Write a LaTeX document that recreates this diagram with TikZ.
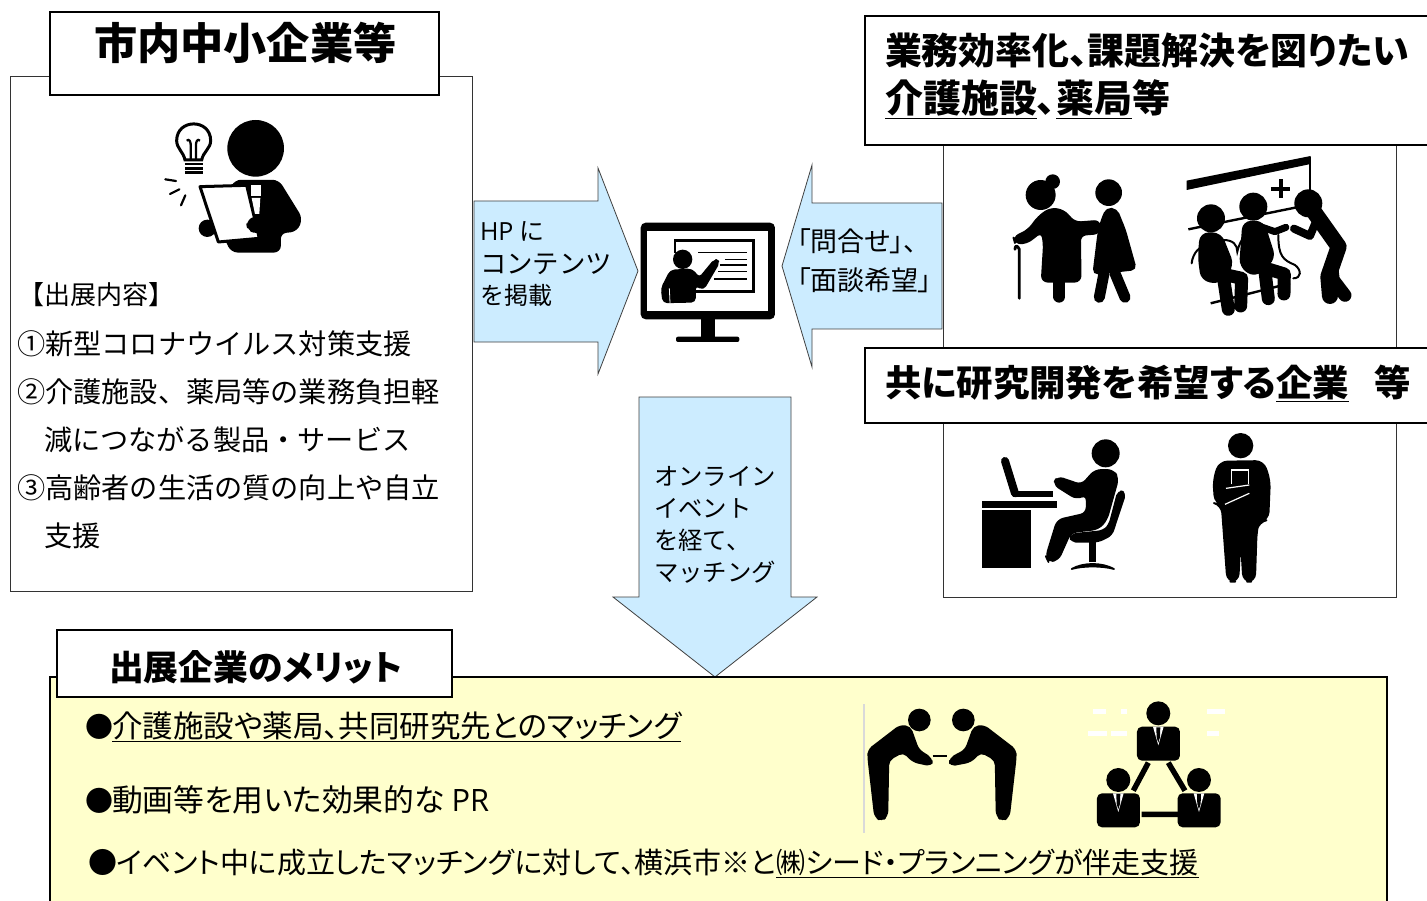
\documentclass[tikz,border=0pt]{standalone}
\usepackage{fontspec}
\setmainfont{Noto Sans CJK JP}
\newfontfamily\pf[RawFeature={+palt}]{Noto Sans CJK JP}
\newfontfamily\lt{Open Sans}
\tikzset{
  frame/.style={draw=black,line width=1.2pt,fill=white},
  thinframe/.style={draw=black!80,line width=0.9pt,fill=white},
  arr/.style={draw=black!75,line width=0.8pt,fill=arrowblue},
  txt/.style={anchor=base west,inner sep=0pt,outer sep=0pt},
  silh/.style={fill=black,draw=black,line width=1.8pt,line join=round},
  limb/.style={draw=black,line cap=round,line join=round,fill=none},
}
\definecolor{arrowblue}{HTML}{CCECFF}
\definecolor{paleyellow}{HTML}{FFFFCC}
\newcommand{\fs}[1]{\fontsize{#1pt}{#1pt}\selectfont}
\begin{document}
\begin{tikzpicture}[x=1pt,y=-1pt]
\useasboundingbox (0,0) rectangle (1427,901);
\fill[white] (0,0) rectangle (1427,901);
% left panel
\draw[thinframe] (10.5,76) rectangle (472,591);
\draw[frame] (50,12) rectangle (439,95);
\node[txt] (title) at (94,60) {\fs{43.2}\pf\bfseries 市内中小企業等};
\node[txt] (c0) at (18,305) {\fs{26}【出展内容】};
\node[txt] (c1) at (17,354) {\fs{28.2}①新型コロナウイルス対策支援};
\node[txt] (c2) at (17,402) {\fs{28.2}②介護施設、薬局等の業務負担軽};
\node[txt] (c2b) at (44,450) {\fs{28.2}減につながる製品・サービス};
\node[txt] (c3) at (17,498) {\fs{28.2}③高齢者の生活の質の向上や自立};
\node[txt] (c3b) at (44,546) {\fs{28.2}支援};
% figure 1
\begin{scope}[shift={(150,110)},x=0.3333pt,y=-0.3333pt]
\fill[black] (317,115) circle (85);
\draw[black,line width=3pt] (105,150) .. controls (100,125) and (80,115) .. (80,92) .. controls (80,25) and (182,25) .. (182,92) .. controls (182,115) and (160,125) .. (155,150) -- cycle;
\draw[black,line width=2.2pt] (122,150) -- (122,100) (138,150) -- (138,100) (110,92) .. controls (118,85) and (122,95) .. (122,105) (150,92) .. controls (142,85) and (138,95) .. (138,105);
\draw[black,line width=2.4pt] (105,162) -- (158,162) (105,175) -- (158,175) (105,188) -- (158,188);
\draw[limb,line width=2.2pt] (46,208) -- (78,213) (60,252) -- (88,238) (93,286) -- (106,256);
\path[silh,rounded corners=6pt] (255,212) -- (385,212) -- (455,325) -- (440,362) -- (390,368) -- (390,425) -- (245,425) -- (200,330) -- cycle;
\fill[black] (172,355) circle (26);
\path[fill=white,draw=black,line width=3pt,line join=round] (150,230) -- (290,226) -- (328,385) -- (205,396) -- cycle;
\fill[white] (303,225) rectangle (332,258);
\fill[white] (305,264) -- (331,264) -- (328,312) -- (315,312) -- cycle;
\path[silh,rounded corners=6pt] (290,335) -- (320,318) -- (380,330) -- (400,368) -- (320,368) -- (295,360) -- cycle;
\end{scope}
% arrow right
\draw[arr] (474,201) -- (598,201) -- (598,168) -- (638,271) -- (598,374) -- (598,342) -- (474,342) -- cycle;
\node[txt] (a1) at (480,241) {\fs{25}{\lt HP} に};
\node[txt] (a2) at (480,274) {\fs{26.4}コンテンツ};
\node[txt] (a3) at (480,305) {\fs{24}を掲載};
% arrow left
\draw[arr] (942,203) -- (812,203) -- (812,165) -- (782,266) -- (812,367) -- (812,329) -- (942,329) -- cycle;
\node[txt] (b1) at (797,252) {\fs{27}\pf 「問合せ」、};
\node[txt] (b2) at (797,291) {\fs{27}\pf 「面談希望」};
% monitor
\begin{scope}[shift={(630,210)},x=0.3333pt,y=-0.3333pt]
\fill[black,rounded corners=5pt] (32,38) rectangle (435,328);
\fill[white] (50,62) rectangle (415,302);
\fill[black] (212,325) rectangle (256,382);
\fill[black,rounded corners=2pt] (138,380) rectangle (328,396);
\draw[black,line width=2.4pt] (135,130) -- (135,92) -- (370,92) -- (370,245) -- (190,245);
\draw[black,line width=1.4pt] (205,127) -- (350,127) (285,148) -- (350,148) (270,165) -- (350,165) (265,185) -- (350,185) (252,207) -- (350,207);
\fill[black] (158,148) circle (29);
\path[silh,rounded corners=4pt] (122,182) -- (185,178) -- (208,205) -- (255,148) -- (268,156) -- (220,238) -- (195,225) -- (195,275) -- (100,277) -- (95,235) -- cycle;
\draw[white,line width=0.8pt] (118,235) -- (120,279);
\end{scope}
% right panel
\draw[thinframe] (943.5,120) rectangle (1396,597);
\draw[frame] (865,16) rectangle (1440,145);
\node[txt] (r1) at (885,65) {\fs{36.9}\pf\bfseries 業務効率化、課題解決を図りたい};
\node[txt] (r2) at (885,113) {\fs{38}\pf\bfseries \underline{介護施設}、\underline{薬局}等};
\draw[frame] (865,348) rectangle (1440,423);
\node[txt] (r3) at (885,396) {\fs{36.4}\pf\bfseries 共に研究開発を希望する\underline{企業}\hspace{0.7em}等};
% figure 3
\begin{scope}[shift={(1000,150)},x=0.3333pt,y=-0.3333pt]
\fill[black] (122,135) circle (45);
\fill[black] (158,95) circle (22);
\path[silh,rounded corners=6pt] (150,175) -- (190,180) -- (225,218) -- (300,212) -- (300,250) -- (240,255) -- (242,395) -- (125,395) -- (132,280) -- (125,245) -- (80,280) -- (45,280) -- (40,262) -- (85,240) -- (115,200) -- cycle;
\draw[limb,line width=12pt] (178,395) -- (178,440);
\draw[limb,line width=2.8pt] (58,445) -- (58,298) .. controls (52,285) and (45,285) .. (45,298);
\fill[black] (326,128) circle (40);
\path[silh,rounded corners=5pt] (320,175) -- (350,178) -- (375,240) -- (408,358) -- (280,372) -- (295,250) -- (305,210) -- cycle;
\draw[limb,line width=11pt] (312,370) -- (298,442) (345,370) -- (375,442);
\fill[black] (560,92) -- (932,18) -- (932,42) -- (560,120) -- cycle;
\draw[black,line width=2pt] (930,20) -- (930,125);
\draw[black,line width=4pt] (842,88) -- (842,145) (813,116) -- (870,116);
\draw[black,line width=2.4pt] (565,238) -- (900,170);
\draw[black,line width=2pt,line cap=round] (575,340) .. controls (578,310) and (600,285) .. (620,290);
\draw[black,line width=2pt,line cap=round] (670,270) .. controls (700,270) and (712,285) .. (712,305) .. controls (718,280) and (730,255) .. (745,255);
\draw[black,line width=2pt,line cap=round] (835,255) .. controls (835,320) and (850,330) .. (885,345) .. controls (905,360) and (905,385) .. (880,385);
\draw[black,line width=2.4pt] (632,460) -- (870,400);
\fill[black] (633,205) circle (42);
\path[silh,rounded corners=8pt] (602,250) -- (662,250) -- (700,345) -- (660,400) -- (605,390) -- (596,320) -- cycle;
\draw[limb,line width=13pt] (635,365) -- (725,385) -- (722,468) (670,380) -- (685,478);
\fill[black] (760,170) circle (42);
\path[silh,rounded corners=8pt] (730,215) -- (790,215) -- (825,325) -- (765,380) -- (720,350) -- cycle;
\draw[limb,line width=7pt] (775,228) -- (825,245) -- (858,232);
\draw[limb,line width=13pt] (765,345) -- (853,372) -- (852,432) (795,365) -- (805,446);
\fill[black] (925,160) circle (42);
\draw[limb,line width=16pt] (945,190) -- (1016,290) -- (985,380) -- (990,438);
\draw[limb,line width=13pt] (995,350) -- (1000,390) -- (1035,436);
\draw[limb,line width=8pt] (950,210) -- (930,258) -- (882,236);
\end{scope}
% figure 4
\begin{scope}[shift={(970,425)},x=0.3333pt,y=-0.3333pt]
\fill[black] (37,228) rectangle (260,250);
\fill[black] (37,254) rectangle (182,428);
\draw[limb,line width=8pt] (105,108) -- (135,205);
\fill[black] (130,198) rectangle (248,216);
\fill[black] (407,85) circle (42);
\path[silh,rounded corners=6pt] (375,135) -- (430,135) -- (445,160) -- (410,285) -- (385,312) -- (302,322) -- (265,405) -- (235,410) -- (228,395) -- (262,285) -- (350,265) -- (350,208) -- (320,222) -- (250,178) -- (262,155) -- (335,180) -- cycle;
\path[silh,rounded corners=5pt] (445,197) -- (467,203) -- (425,330) -- (385,350) -- (302,350) -- (302,328) -- (400,318) -- (418,300) -- cycle;
\fill[black] (358,350) rectangle (378,412);
\path[silh] (305,432) .. controls (340,412) and (395,412) .. (432,432) .. controls (395,422) and (340,422) .. (305,432) -- cycle;
\fill[black] (812,62) circle (38);
\path[silh,rounded corners=8pt] (748,110) -- (880,108) -- (900,165) -- (895,285) -- (866,290) -- (860,320) -- (855,470) -- (820,470) -- (812,335) -- (805,470) -- (772,470) -- (755,240) -- (735,235) -- (730,165) -- cycle;
\draw[white,line width=1.2pt] (785,178) -- (785,135) -- (835,135) -- (835,178);
\draw[white,line width=1.2pt] (768,190) -- (838,180) (765,238) -- (838,205);
\end{scope}
% arrow down
\draw[arr] (639,397) -- (791,397) -- (791,597) -- (817,597) -- (715,677) -- (613,597) -- (639,597) -- cycle;
\node[txt] (d1) at (654,485) {\fs{24.4}オンライン};
\node[txt] (d2) at (654,517) {\fs{24.4}イベント};
\node[txt] (d3) at (654,549) {\fs{24.4}を経て、};
\node[txt] (d4) at (654,581) {\fs{24.4}マッチング};
% bottom panel
\draw[frame,fill=paleyellow] (50,677) rectangle (1387,915);
\draw[frame] (57,630) rectangle (452,697);
\node[txt] (m0) at (109,680) {\fs{34.8}\pf\bfseries 出展企業のメリット};
\node[txt] (m1) at (85,737) {\fs{28}\pf ●}; 
\node[txt] (m1t) at (112,737) {\fs{30.5}\pf \underline{介護施設や薬局、共同研究先とのマッチング}};
\node[txt] (m2) at (85,811) {\fs{28}\pf ●};
\node[txt] (m2t) at (112,811) {\fs{30.8}\pf 動画等を用いた効果的な {\lt PR}};
\node[txt] (m3) at (88,873) {\fs{29}\pf ●イベント中に成立したマッチングに対して、横浜市※と\underline{㈱シード・プランニングが伴走支援}};
% figure 5
\begin{scope}[shift={(850,695)},x=0.3333pt,y=-0.3333pt]
\draw[black!15,line width=2.8pt] (42,28) -- (42,415);
\fill[black] (208,75) circle (34);
\path[silh,rounded corners=5pt] (150,92) -- (180,95) -- (205,165) -- (245,190) -- (245,212) -- (190,200) -- (160,170) -- (115,195) -- (112,362) -- (95,378) -- (75,365) -- (55,190) -- (55,165) -- cycle;
\fill[black] (340,75) circle (34);
\path[silh,rounded corners=5pt] (402,92) -- (372,95) -- (347,165) -- (300,190) -- (300,212) -- (362,200) -- (392,170) -- (437,195) -- (440,362) -- (457,378) -- (477,365) -- (497,190) -- (497,165) -- cycle;
\draw[black,line width=1.8pt] (248,184) -- (290,184);
\foreach \a/\b/\c/\d in {730/42/768/58,812/42/832/58,1072/42/1125/58,715/108/770/122,782/108/832/122,1070/108/1108/122}
  \fill[white] (\a,\b) rectangle (\c,\d);
\foreach \cx/\cy in {925/55,805/255,1047/255}{
  \fill[black] (\cx,\cy) circle (36);
  \fill[black,rounded corners=5pt] (\cx-64,\cy+40) rectangle (\cx+65,\cy+142);
  \fill[white] (\cx-16,\cy+40) -- (\cx+16,\cy+40) -- (\cx,\cy+96) -- cycle;
  \fill[black] (\cx-6,\cy+42) -- (\cx+6,\cy+42) -- (\cx+5,\cy+72) -- (\cx,\cy+88) -- (\cx-5,\cy+72) -- cycle;
}
\draw[black,line width=5.4pt] (895,203) -- (850,287) (955,203) -- (1005,287) (875,358) -- (985,358);
\end{scope}
\end{tikzpicture}
\end{document}
